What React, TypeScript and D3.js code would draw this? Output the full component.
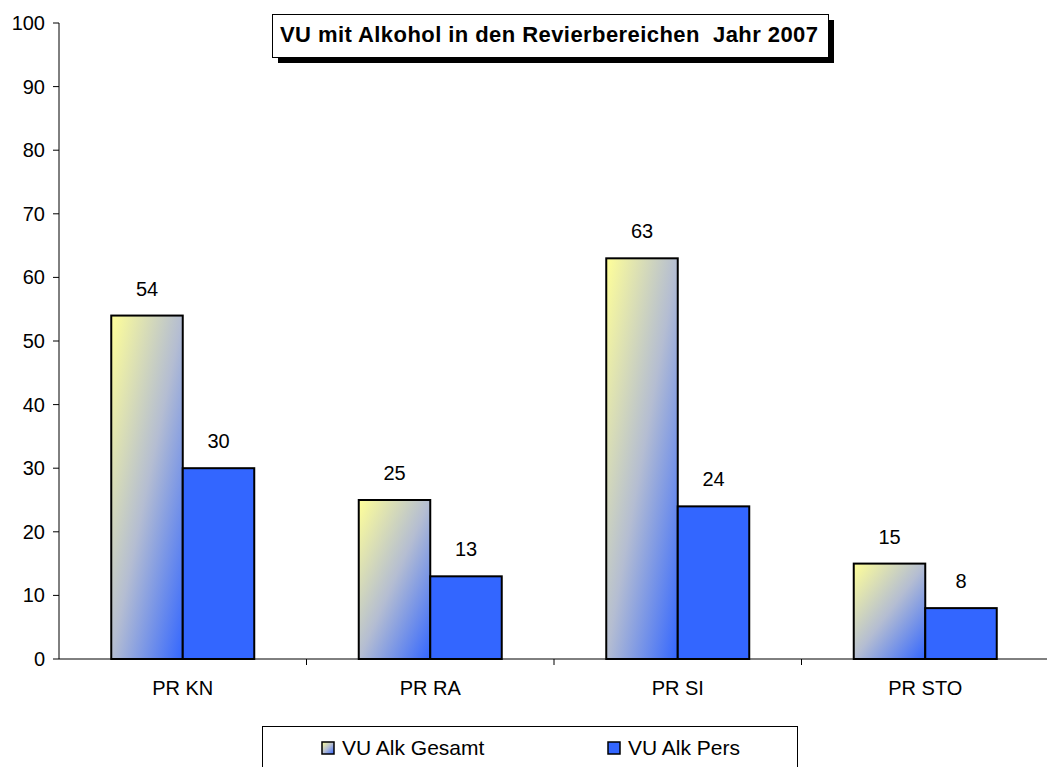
import React from "react";
import * as d3 from "d3";

const categories = ["PR KN", "PR RA", "PR SI", "PR STO"];
const seriesNames = ["VU Alk Gesamt", "VU Alk Pers"];
const gesamt = [54, 25, 63, 15];
const pers = [30, 13, 24, 8];
const yTicks = [0, 10, 20, 30, 40, 50, 60, 70, 80, 90, 100];
const title = "VU mit Alkohol in den Revierbereichen  Jahr 2007";

const W = 1047;
const H = 767;
const FONT = "'Liberation Sans', Arial, sans-serif";

export default function App() {
  const x0Left = 59;
  const band = 247.5;
  const x0 = d3
    .scaleBand<string>()
    .domain(categories)
    .range([x0Left, x0Left + band * categories.length]);
  const groupW = 143;
  const x1 = d3.scaleBand<string>().domain(seriesNames).range([0, groupW]);
  const y = d3.scaleLinear().domain([0, 100]).range([659, 23]);

  const data = categories.map((c, i) => ({ c, values: [gesamt[i], pers[i]] }));
  const legendX = [322, 608];

  return (
    <svg
      width={W}
      height={H}
      style={{ position: "absolute", left: 0, top: 0, background: "#fff" }}
      fontFamily={FONT}
    >
      <defs>
        <linearGradient id="grad" x1="0" y1="0" x2="1" y2="1">
          <stop offset="0%" stopColor="#ffff99" />
          <stop offset="50%" stopColor="#b4bdd2" />
          <stop offset="100%" stopColor="#3366ff" />
        </linearGradient>
      </defs>
      <rect x={0} y={0} width={W} height={H} fill="#fff" />

      {/* y axis */}
      <line x1={x0Left} x2={x0Left} y1={y(100)} y2={y(0)} stroke="#000" strokeWidth={1} />
      {yTicks.map((t) => (
        <g key={t}>
          <line x1={x0Left - 6} x2={x0Left} y1={y(t)} y2={y(t)} stroke="#000" />
          <text x={45} y={y(t) + 7} textAnchor="end" fontSize={20} fill="#000">
            {t}
          </text>
        </g>
      ))}

      {/* bars */}
      {data.map((d) => {
        const gx = (x0(d.c) as number) + (band - groupW) / 2;
        return (
          <g key={d.c}>
            {d.values.map((v, j) => {
              const bx = gx + (x1(seriesNames[j]) as number);
              const bw = x1.bandwidth();
              return (
                <g key={j}>
                  <rect
                    x={bx}
                    y={y(v)}
                    width={bw}
                    height={y(0) - y(v)}
                    fill={j === 0 ? "url(#grad)" : "#3366ff"}
                    stroke="#000"
                    strokeWidth={2}
                  />
                  <text
                    x={bx + bw / 2}
                    y={y(v) - 20}
                    textAnchor="middle"
                    fontSize={20}
                    fill="#000"
                  >
                    {v}
                  </text>
                </g>
              );
            })}
          </g>
        );
      })}

      {/* x axis */}
      <line x1={x0Left} x2={W} y1={y(0)} y2={y(0)} stroke="#000" strokeWidth={1} />
      {categories.map((c) => (
        <g key={c}>
          <line
            x1={(x0(c) as number) + band}
            x2={(x0(c) as number) + band}
            y1={y(0)}
            y2={y(0) + 6}
            stroke="#000"
          />
          <text
            x={(x0(c) as number) + band / 2}
            y={y(0) + 36}
            textAnchor="middle"
            fontSize={20}
            fill="#000"
          >
            {c}
          </text>
        </g>
      ))}

      {/* title */}
      <rect x={278} y={20} width={556} height={43} fill="#000" />
      <rect x={272.5} y={14.5} width={556} height={43} fill="#fff" stroke="#000" strokeWidth={1} />
      <text
        x={280}
        y={42}
        fontSize={22}
        fontWeight="bold"
        fill="#000"
        textLength={538}
        lengthAdjust="spacing"
        style={{ whiteSpace: "pre" }}
      >
        {title}
      </text>

      {/* legend */}
      <rect x={262.5} y={726.5} width={535} height={50} fill="#fff" stroke="#000" strokeWidth={1} />
      {seriesNames.map((s, i) => {
        const lx = legendX[i];
        return (
          <g key={s}>
            <rect
              x={lx}
              y={742}
              width={12}
              height={12}
              fill={i === 0 ? "url(#grad)" : "#3366ff"}
              stroke="#000"
              strokeWidth={1.5}
            />
            <text x={lx + 20} y={755} fontSize={21} fill="#000">
              {s}
            </text>
          </g>
        );
      })}
    </svg>
  );
}
